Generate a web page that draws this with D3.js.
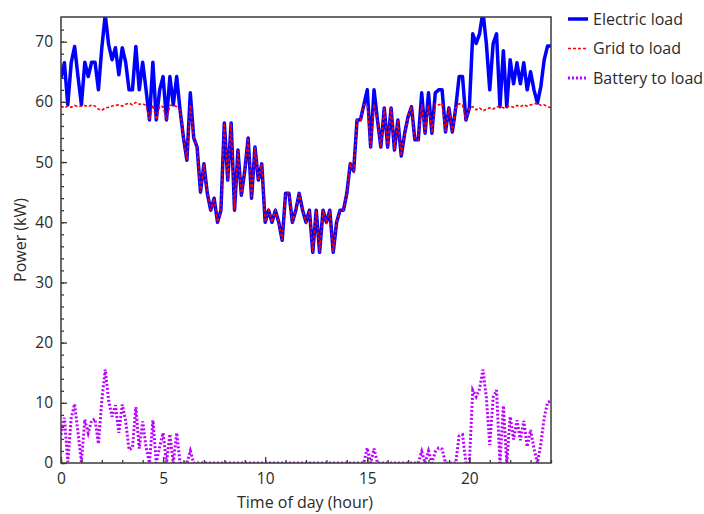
<!DOCTYPE html>
<html>
<head>
<meta charset="utf-8">
<script src="https://cdn.jsdelivr.net/npm/d3@7"></script>
<style>
  html, body { margin: 0; padding: 0; background: #fff; }
  svg { display: block; }
  text { font-family: "Open Sans", "Noto Sans", sans-serif; fill: #2a2a2a; }
</style>
</head>
<body>
<svg id="chart" width="704" height="514"></svg>
<script>
// Time of day in hours (10-minute steps)
const hours = d3.range(0, 145).map(i => i / 6);

// Electric load (kW)
const electricLoad = [
  64, 66.5, 59.5, 66.5, 69.2, 64.2,
  59.5, 66.6, 64.2, 66.6, 66.6, 62,
  69, 74.5, 69.5, 67, 69, 64.5,
  69, 66.6, 62, 62, 69.2, 62,
  66.6, 62, 57, 66.6, 57, 62,
  64.2, 57, 64.2, 59.5, 64.2, 58.6,
  54, 50.3, 61.5, 54, 52.5, 45,
  49.7, 44.8, 42, 44, 40, 42,
  56.5, 47, 56.5, 42, 52, 44.5,
  48.5, 54, 44, 52.5, 47, 49.7,
  40, 42, 40, 42, 40, 37,
  44.8, 44.8, 40, 42, 44.8, 42,
  40, 42, 35, 42, 35, 42,
  40, 42, 35, 40, 42, 42,
  44.8, 49.7, 48.5, 57, 57, 59.5,
  62, 52.5, 62, 57, 52.5, 59,
  52.5, 59, 52, 57, 51, 54.8,
  57.5, 59.2, 53.7, 53.7, 61.5, 54.8,
  61.5, 54.8, 61.5, 62, 62, 55,
  59, 55, 59, 64.2, 64.2, 57,
  59, 71.3, 69.7, 71.3, 75, 69.7,
  62, 69.7, 71.3, 59.2, 68.5, 59.2,
  67, 63, 66.5, 63, 66.5, 62,
  65, 62, 59.8, 62.5, 67, 69.3,
  69.3
];

// Grid to load (kW)
const gridToLoad = [
  59.3, 59.0, 59.3, 59.1, 59.4, 59.2,
  59.3, 59.4, 59.2, 59.5, 59.3, 58.8,
  58.6, 59.0, 59.1, 59.3, 59.4, 59.5,
  59.3, 59.6, 59.8, 59.5, 59.9, 59.6,
  59.7, 59.4, 57, 59.5, 57, 59.3,
  59.2, 57, 59.4, 59.5, 59.2, 58.6,
  54, 50.3, 59.5, 54, 52.5, 45,
  49.7, 44.8, 42, 44, 40, 42,
  56.5, 47, 56.5, 42, 52, 44.5,
  48.5, 54, 44, 52.5, 47, 49.7,
  40, 42, 40, 42, 40, 37,
  44.8, 44.8, 40, 42, 44.8, 42,
  40, 42, 35, 42, 35, 42,
  40, 42, 35, 40, 42, 42,
  44.8, 49.7, 48.5, 57, 57, 59.5,
  59.5, 52.5, 59.6, 57, 52.5, 59,
  52.5, 59, 52, 57, 51, 54.8,
  57.5, 59.2, 53.7, 53.7, 59.6, 54.8,
  59.5, 54.8, 59.6, 59.5, 59.7, 55,
  59, 55, 59, 59.7, 59.5, 57,
  59, 59.2, 58.7, 59.0, 58.5, 58.8,
  59.0, 58.8, 59.2, 59.2, 59.0, 59.2,
  59.3, 59.1, 59.4, 59.2, 59.5, 59.3,
  59.5, 59.6, 59.8, 59.4, 59.5, 59.2,
  59.0
];

// Battery to load (kW)
const batteryToLoad = [
  4.7, 7.5, 0.2, 7.4, 9.8, 5.0,
  0.2, 7.2, 5.0, 7.1, 7.3, 3.2,
  10.4, 15.5, 10.4, 7.7, 9.6, 5.0,
  9.7, 7.0, 2.2, 2.5, 9.3, 2.4,
  6.9, 2.6, 0, 7.1, 0, 2.7,
  5.0, 0, 4.8, 0, 5.0, 0,
  0, 0, 2.0, 0, 0, 0,
  0, 0, 0, 0, 0, 0,
  0, 0, 0, 0, 0, 0,
  0, 0, 0, 0, 0, 0,
  0, 0, 0, 0, 0, 0,
  0, 0, 0, 0, 0, 0,
  0, 0, 0, 0, 0, 0,
  0, 0, 0, 0, 0, 0,
  0, 0, 0, 0, 0, 0,
  2.5, 0, 2.4, 0, 0, 0,
  0, 0, 0, 0, 0, 0,
  0, 0, 0, 0, 1.9, 0,
  2.0, 0, 1.9, 2.5, 2.3, 0,
  0, 0, 0, 4.5, 4.7, 0,
  0, 12.1, 11.0, 12.3, 15.5, 10.9,
  3.0, 10.9, 12.1, 0, 9.5, 0,
  7.7, 3.9, 7.1, 3.8, 7.0, 2.7,
  5.5, 2.4, 0, 3.1, 7.5, 10.1,
  10.3
];

const xTicks = [0, 5, 10, 15, 20];
const yTicks = [0, 10, 20, 30, 40, 50, 60, 70];
const seriesNames = ["Electric load", "Grid to load", "Battery to load"];
const seriesColors = ["#0000ff", "#ff0000", "#bb00ff"];

const svg = d3.select("#chart");
const L = 61, R = 551, T = 17, B = 463;

const x = d3.scaleLinear().domain([0, 24]).range([L, R]);
const y = d3.scaleLinear().domain([0, 74.1]).range([B, T]);

const plot = svg.append("g");
plot.append("clipPath").attr("id", "clip")
  .append("rect").attr("x", L).attr("y", T).attr("width", R - L).attr("height", B - T);

const lines = plot.append("g").attr("clip-path", "url(#clip)");
const mk = arr => d3.line().x((d, i) => x(hours[i])).y(d => y(d))(arr);

const widths = [3.5, 1.6, 3];
const dashes = [null, "3,2", "2,2"];
lines.append("path").attr("d", mk(electricLoad))
  .attr("fill", "none").attr("stroke", seriesColors[0]).attr("stroke-width", widths[0])
  .attr("stroke-linejoin", "round");
lines.append("path").attr("d", mk(gridToLoad))
  .attr("fill", "none").attr("stroke", seriesColors[1]).attr("stroke-width", widths[1])
  .attr("stroke-dasharray", dashes[1]);
lines.append("path").attr("d", mk(batteryToLoad))
  .attr("fill", "none").attr("stroke", seriesColors[2]).attr("stroke-width", widths[2])
  .attr("stroke-dasharray", dashes[2]);

// Frame
svg.append("rect").attr("x", L).attr("y", T).attr("width", R - L).attr("height", B - T)
  .attr("fill", "none").attr("stroke", "#3a3a3a").attr("stroke-width", 1.5);

// X axis (ticks inward)
const xAxisMinor = d3.axisBottom(x).tickValues(d3.range(0, 25, 1)).tickSize(-3).tickFormat("");
svg.append("g").attr("transform", `translate(0,${B})`).call(xAxisMinor)
  .call(g => g.select(".domain").remove())
  .call(g => g.selectAll("line").attr("stroke", "#3a3a3a").attr("stroke-width", 1.3));
const xAxis = d3.axisBottom(x).tickValues(xTicks).tickSize(-6).tickPadding(10);
svg.append("g").attr("transform", `translate(0,${B})`).call(xAxis)
  .call(g => g.select(".domain").remove())
  .call(g => g.selectAll("line").attr("stroke", "#3a3a3a").attr("stroke-width", 1.3))
  .call(g => g.selectAll("text").attr("font-size", 15.5).attr("font-family", "'Open Sans', sans-serif").attr("fill", "#2a2a2a"));

// Y axis (ticks inward)
const yAxisMinor = d3.axisLeft(y).tickValues(d3.range(0, 74, 2)).tickSize(-3).tickFormat("");
svg.append("g").attr("transform", `translate(${L},0)`).call(yAxisMinor)
  .call(g => g.select(".domain").remove())
  .call(g => g.selectAll("line").attr("stroke", "#3a3a3a").attr("stroke-width", 1.3));
const yAxis = d3.axisLeft(y).tickValues(yTicks).tickSize(-6).tickPadding(8);
svg.append("g").attr("transform", `translate(${L},0)`).call(yAxis)
  .call(g => g.select(".domain").remove())
  .call(g => g.selectAll("line").attr("stroke", "#3a3a3a").attr("stroke-width", 1.3))
  .call(g => g.selectAll("text").attr("font-size", 15.5).attr("font-family", "'Open Sans', sans-serif").attr("fill", "#2a2a2a"));

// Axis titles
svg.append("text").attr("x", 305).attr("y", 508).attr("text-anchor", "middle")
  .attr("font-size", 16).text("Time of day (hour)");
svg.append("text").attr("transform", `translate(26,${(T + B) / 2}) rotate(-90)`)
  .attr("text-anchor", "middle").attr("font-size", 16).text("Power (kW)");

// Legend
const leg = svg.append("g");
seriesNames.forEach((name, i) => {
  const yy = 19 + i * 29.5;
  leg.append("line").attr("x1", 568).attr("x2", 588).attr("y1", yy).attr("y2", yy)
    .attr("stroke", seriesColors[i]).attr("stroke-width", widths[i])
    .attr("stroke-dasharray", dashes[i]);
  leg.append("text").attr("x", 593).attr("y", yy + 5.5).attr("font-size", 16).text(name);
});
</script>
</body>
</html>
